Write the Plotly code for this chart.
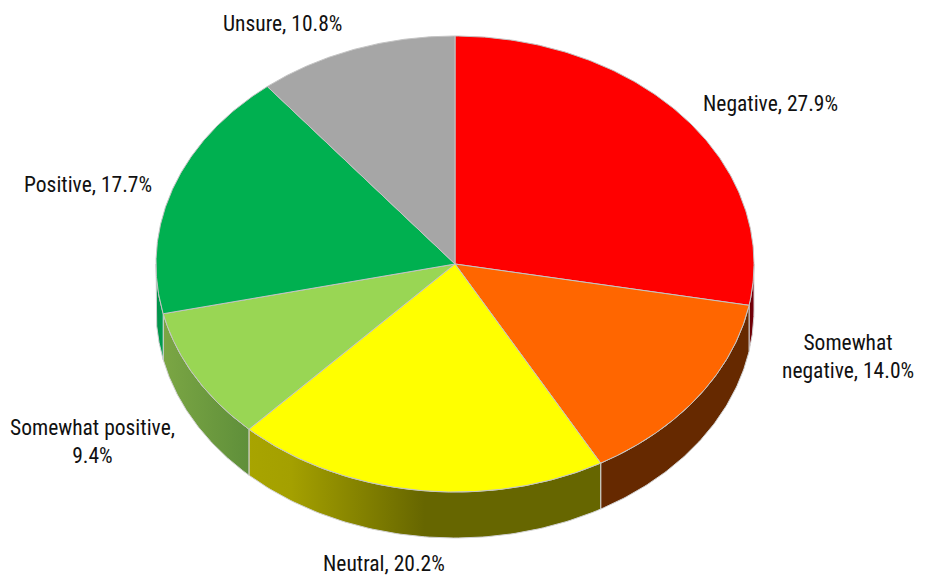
import numpy as np
import plotly.graph_objects as go

categories = ["Negative", "Somewhat negative", "Neutral", "Somewhat positive", "Positive", "Unsure"]
values = [27.9, 14.0, 20.2, 9.4, 17.7, 10.8]
top_colors = ["#ff0000", "#ff6600", "#ffff00", "#99d654", "#00b050", "#a6a6a6"]
wall_scales = [
    [[0, "#660000"], [1, "#7a0010"]],
    [[0, "#662900"], [1, "#662900"]],
    [[0, "#a8a400"], [0.12, "#a4a000"], [0.5, "#666600"], [1, "#666600"]],
    [[0, "#7ba644"], [1, "#5f8f3a"]],
    [[0, "#008f48"], [1, "#00a050"]],
    [[0, "#666666"], [1, "#666666"]],
]
label_texts = ["Negative, 27.9%", "Somewhat<br>negative, 14.0%", "Neutral, 20.2%",
               "Somewhat positive,<br>9.4%", "Positive, 17.7%", "Unsure, 10.8%"]
label_x = [770, 848, 384, 92, 88, 282]
label_y = [103, 356, 563, 441, 184, 23]

CX, CY, RX, RY, DEPTH = 455, 264, 299, 228, 46


def pt(a):
    return CX + RX * np.sin(a), CY - RY * np.cos(a)


fig = go.Figure()
edges = np.radians(np.concatenate([[0], np.cumsum(values)]) * 3.6)

# side wall of the disc, only the front half shows
for i, name in enumerate(categories):
    a0, a1 = max(edges[i], np.pi / 2), min(edges[i + 1], 3 * np.pi / 2)
    if a1 <= a0:
        continue
    a = np.linspace(a0, a1, 80)
    x, y = pt(a)
    xs = np.concatenate([x, x[::-1], x[:1]])
    ys = np.concatenate([y, y[::-1] + DEPTH, y[:1]])
    # ramp runs left to right on screen
    fig.add_trace(go.Scatter(
        x=xs, y=ys, mode="lines", name=name + " side", showlegend=False, hoverinfo="skip",
        line=dict(color="#d2d2d2", width=1), fill="toself",
        fillgradient=dict(type="horizontal", colorscale=wall_scales[i],
                          start=float(x.min()), stop=float(x.max())),
    ))

# top face
for i, name in enumerate(categories):
    a = np.linspace(edges[i], edges[i + 1], 160)
    x, y = pt(a)
    fig.add_trace(go.Scatter(
        x=np.concatenate([[CX], x, [CX]]), y=np.concatenate([[CY], y, [CY]]),
        mode="lines", name=name, showlegend=False, hoverinfo="skip",
        line=dict(color="#c4c4c4", width=1), fill="toself", fillcolor=top_colors[i],
    ))

for t, lx, ly in zip(label_texts, label_x, label_y):
    fig.add_annotation(x=lx, y=ly, text=t, showarrow=False, xanchor="center", yanchor="middle",
                       font=dict(family="Roboto Condensed, Roboto", size=21.5, color="#111111"),
                       align="center")

fig.update_layout(
    width=930, height=578, margin=dict(l=0, r=0, t=0, b=0),
    paper_bgcolor="white", plot_bgcolor="white", showlegend=False,
    xaxis=dict(range=[0, 930], visible=False, fixedrange=True),
    yaxis=dict(range=[578, 0], visible=False, fixedrange=True),
)
fig.write_html("out.html", config={"displayModeBar": False},
               post_script="document.body.style.margin='0';document.body.style.overflow='hidden';")
